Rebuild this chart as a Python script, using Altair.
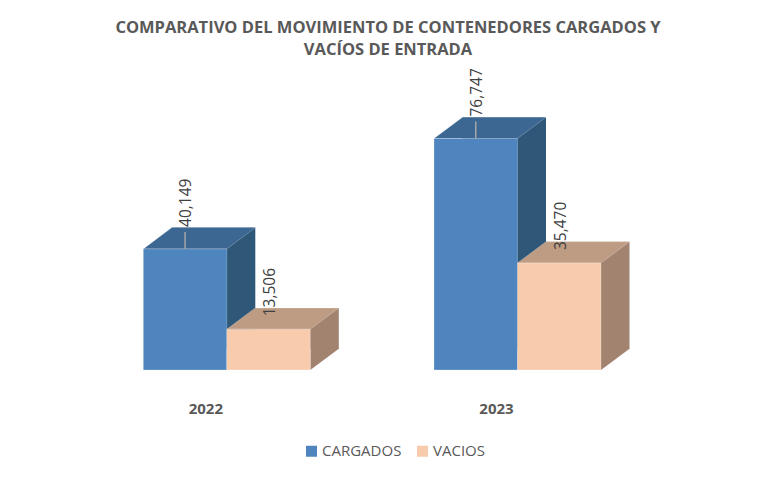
import altair as alt
import pandas as pd

# ---- data ----
years = ["2022", "2023"]
series = ["CARGADOS", "VACIOS"]
cargados = [40149, 76747]
vacios = [13506, 35470]
title_lines = ["COMPARATIVO DEL MOVIMIENTO DE CONTENEDORES CARGADOS Y", "VACÍOS DE ENTRADA"]

rows = []
for i, yr in enumerate(years):
    rows.append({"year": yr, "series": series[0], "value": cargados[i]})
    rows.append({"year": yr, "series": series[1], "value": vacios[i]})
df = pd.DataFrame(rows)

# ---- styling ----
FONT = "Open Sans"
front_col = ["#4f85bf", "#f8cbad"]
top_col = ["#3b6792", "#be9b83"]
side_col = ["#2e5778", "#a1836f"]

X0, X1 = 135.3, 593.0      # pixel range of the year bands
YB, YT = 362.0, 120.7      # pixel range of the value axis (0 .. 80000)
DX, DY = 28.5, 21.3        # 3-D depth in pixels
BW = 83.5                  # width of one bar in pixels (for face shapes)
PAD_IN = 0.4255


def xenc(shift=0.0):
    return alt.X("year:N", axis=None,
                 scale=alt.Scale(type="band", domain=years, range=[X0 + shift, X1 + shift],
                                 paddingInner=PAD_IN, paddingOuter=0, round=False))


def xoff():
    return alt.XOffset("series:N",
                       scale=alt.Scale(type="band", domain=series, paddingInner=0,
                                       paddingOuter=0, round=False))


def yenc(field="value", shift=0.0):
    return alt.Y(f"{field}:Q", axis=None,
                 scale=alt.Scale(domain=[0, 80000], range=[YB - shift, YT - shift],
                                 nice=False, zero=True))


def col(rng, legend=None):
    return alt.Color("series:N", scale=alt.Scale(domain=series, range=rng), legend=legend)


base = alt.Chart(df)

# back (depth) block, shifted up/right
side_layer = base.mark_bar(opacity=1, strokeWidth=0).encode(
    x=xenc(DX), xOffset=xoff(), y=yenc(shift=DY), color=col(side_col))

# lower triangle of the side face at the base line (overlaps the block by 1px)
tri_path = (f"M{BW/2},{-DY - 1} L{BW/2},0 L{BW/2 + DX},{-DY} "
            f"L{BW/2 + DX},{-DY - 1} Z")
tri_layer = base.transform_calculate(zero="0").mark_point(
    shape=tri_path, size=4, filled=True, opacity=1, strokeWidth=0).encode(
    x=xenc(), xOffset=xoff(), y=yenc("zero"), color=col(side_col))

# top face
top_path = f"M{-BW/2},0 L{BW/2},0 L{BW/2 + DX},{-DY} L{-BW/2 + DX},{-DY} Z"
top_layer = base.mark_point(
    shape=top_path, size=4, filled=True, opacity=1,
    stroke="#ffffff", strokeOpacity=0.25, strokeWidth=1).encode(
    x=xenc(), xOffset=xoff(), y=yenc(),
    fill=alt.Fill("series:N", scale=alt.Scale(domain=series, range=top_col), legend=None))

# front face
front_layer = base.mark_bar(opacity=1, stroke="#ffffff", strokeOpacity=0.25, strokeWidth=1).encode(
    x=xenc(), xOffset=xoff(), y=yenc(),
    color=col(front_col, legend=alt.Legend(
        title=None, orient="none", legendX=296, legendY=435.5, direction="horizontal",
        symbolType="square", symbolSize=121, symbolStrokeWidth=0, symbolOpacity=1,
        labelFont=FONT, labelFontSize=15, labelColor="#595959",
        labelOffset=3, columnPadding=13)))

# leader lines for the taller labels
leader = base.transform_filter(alt.datum.series == series[0]).mark_point(
    shape="M0,0 L0,-17", size=4, filled=False, opacity=1,
    stroke="#a6a6a6", strokeWidth=1.5).encode(x=xenc(), xOffset=xoff(), y=yenc())

lab_c = base.transform_filter(alt.datum.series == series[0]).mark_text(
    angle=270, align="left", baseline="middle", dx=22, dy=1,
    font=FONT, fontSize=15.5, color="#404040").encode(
    x=xenc(), xOffset=xoff(), y=yenc(), text=alt.Text("value:Q", format=","))

lab_v = base.transform_filter(alt.datum.series == series[1]).mark_text(
    angle=270, align="left", baseline="middle", dx=13, dy=1.5,
    font=FONT, fontSize=15.5, color="#404040").encode(
    x=xenc(), xOffset=xoff(), y=yenc(), text=alt.Text("value:Q", format=","))

# category labels
ylab = alt.Chart(pd.DataFrame({"year": years})).mark_text(
    dx=-21, baseline="middle", align="center", font=FONT, fontSize=15,
    fontWeight="bold", color="#595959").encode(
    x=xenc(), y=alt.value(400.5), text="year:N")

# title
t1 = alt.Chart(pd.DataFrame({"t": [title_lines[0]]})).mark_text(
    baseline="middle", align="center", font=FONT, fontSize=16.5,
    fontWeight="bold", color="#595959").encode(
    x=alt.value(380), y=alt.value(20), text="t:N")
t2 = alt.Chart(pd.DataFrame({"t": [title_lines[1]]})).mark_text(
    baseline="middle", align="center", font=FONT, fontSize=16.5,
    fontWeight="bold", color="#595959").encode(
    x=alt.value(380), y=alt.value(42), text="t:N")

chart = alt.layer(
    side_layer, tri_layer, top_layer, front_layer, leader, lab_c, lab_v, ylab, t1, t2
).resolve_scale(
    x="independent", y="independent", xOffset="independent",
    color="independent", fill="independent"
).properties(
    width=760, height=461, padding=0,
    autosize=alt.AutoSizeParams(type="none"),
    background="white"
).configure_view(stroke=None)

chart.save("out.html", embed_options={"renderer": "svg", "actions": False})
